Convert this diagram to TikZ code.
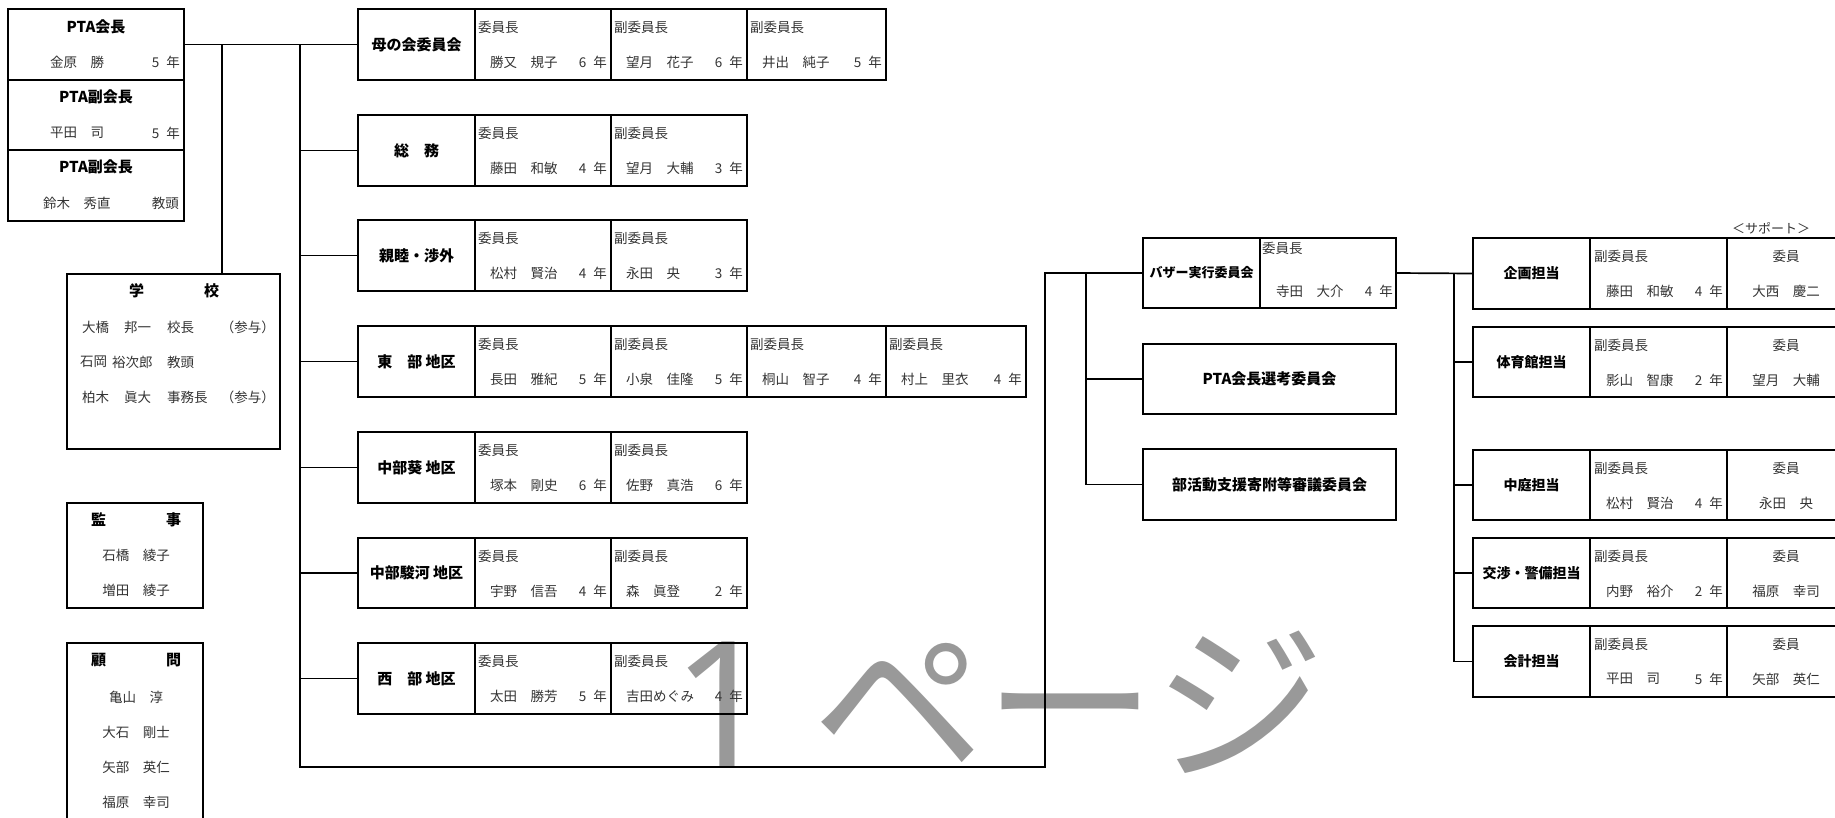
\documentclass[tikz,border=0pt]{standalone}
\usepackage{fontspec}
\setmainfont{Noto Sans CJK JP}
\newfontfamily\wmlatin{Noto Sans}
\begin{document}
\begin{tikzpicture}[x=1pt,y=-1pt,
  boxst/.style={draw, line width=1.7pt, inner sep=0pt, outer sep=0pt, anchor=north west},
  sm/.style={font=\fontsize{13.5}{15}\selectfont, text=black!80, inner sep=0pt},
  lab/.style={font=\fontsize{15}{17}\selectfont\bfseries, text=black, inner sep=0pt},
  labs/.style={font=\fontsize{14}{16}\selectfont\bfseries, text=black, inner sep=0pt},
  wm/.style={font=\fontsize{172}{180}\selectfont, text=black!40, inner sep=0pt},
  conn/.style={line width=1.7pt}]
\useasboundingbox (0,0) rectangle (1835,817);
\clip (0,0) rectangle (1835,817);
\newcommand\yr[1]{#1\hspace*{7pt}年}
\newcommand\mkbox[5]{\node[boxst, minimum width={(#4-#2)*1pt}, minimum height={(#5-#3)*1pt}] (#1) at (#2,#3) {};}
\newcommand\mem[4]{%
  \node[sm, anchor=west] (#1r) at ([xshift=3pt,yshift=-18pt]#1.north west) {#2};
  \node[sm, anchor=west] (#1n) at ([xshift=15pt,yshift=-53pt]#1.north west) {#3};
  \node[sm, anchor=east] (#1y) at ([xshift=-4pt,yshift=-53pt]#1.north east) {\yr{#4}};}
\newcommand\rmem[3]{%
  \node[sm, anchor=west] (#1r) at ([xshift=4pt,yshift=-18pt]#1.north west) {副委員長};
  \node[sm, anchor=west] (#1n) at ([xshift=16pt,yshift=-53pt]#1.north west) {#2};
  \node[sm, anchor=east] (#1y) at ([xshift=-4pt,yshift=-53pt]#1.north east) {\yr{#3}};}
\newcommand\supp[2]{%
  \node[sm] (#1r) at ([yshift=-18pt]#1.north) {委員};
  \node[sm] (#1n) at ([yshift=-53pt]#1.north) {#2};}

% watermark
\node[wm, anchor=base west] (wmark) at (672,767) {\wmlatin\fontsize{176}{180}\selectfont 1\hspace*{40pt}\normalfont\fontsize{172}{180}\selectfont ページ};

% left column
\mkbox{pres}{8}{9}{184}{80}
\node[lab] (prest) at (96,27) {PTA会長};
\node[sm, anchor=west] (presn) at (50,62) {金原　勝};
\node[sm, anchor=east] (presy) at (180,62) {\yr{5}};
\mkbox{vpa}{8}{80}{184}{150}
\node[lab] (vpat) at (96,97) {PTA副会長};
\node[sm, anchor=west] (vpan) at (50,133) {平田　司};
\node[sm, anchor=east] (vpay) at (180,133) {\yr{5}};
\mkbox{vpb}{8}{150}{184}{221}
\node[lab] (vpbt) at (96,167) {PTA副会長};
\node[sm, anchor=west] (vpbn) at (43,203) {鈴木　秀直};
\node[sm, anchor=east] (vpby) at (179,203) {教頭};

\mkbox{school}{67}{274}{280}{449}
\node[lab] (schoolt) at (174,291) {学\hspace*{60pt}校};
\node[sm, anchor=west] (s1a) at (82,327) {大橋};
\node[sm, anchor=west] (s1b) at (124,327) {邦一};
\node[sm, anchor=west] (s1c) at (167,327) {校長};
\node[sm, anchor=east] (s1d) at (275,327) {（参与）};
\node[sm, anchor=west] (s2a) at (80,362) {石岡};
\node[sm, anchor=west] (s2b) at (112,362) {裕次郎};
\node[sm, anchor=west] (s2c) at (167,362) {教頭};
\node[sm, anchor=west] (s3a) at (82,397) {柏木};
\node[sm, anchor=west] (s3b) at (124,397) {眞大};
\node[sm, anchor=west] (s3c) at (167,397) {事務長};
\node[sm, anchor=east] (s3d) at (275,397) {（参与）};

\mkbox{kanji}{67}{503}{203}{608}
\node[lab] (kanjit) at (136,520) {監\hspace*{60pt}事};
\node[sm] (kanji1) at (136,555) {石橋　綾子};
\node[sm] (kanji2) at (136,590) {増田　綾子};

\mkbox{komon}{67}{643}{203}{840}
\node[lab] (komont) at (136,660) {顧\hspace*{60pt}問};
\node[sm] (komon1) at (136,697) {亀山　淳};
\node[sm] (komon2) at (136,732) {大石　剛士};
\node[sm] (komon3) at (136,767) {矢部　英仁};
\node[sm] (komon4) at (136,802) {福原　幸司};

% middle rows
\mkbox{hahaL}{358}{9}{475}{80}
\mkbox{hahaA}{475}{9}{611}{80}
\mkbox{hahaB}{611}{9}{747}{80}
\mkbox{hahaC}{747}{9}{886}{80}
\node[lab] (hahat) at (hahaL.center) {母の会委員会};
\mem{hahaA}{委員長}{勝又　規子}{6}
\mem{hahaB}{副委員長}{望月　花子}{6}
\mem{hahaC}{副委員長}{井出　純子}{5}

\mkbox{soumuL}{358}{115}{475}{186}
\mkbox{soumuA}{475}{115}{611}{186}
\mkbox{soumuB}{611}{115}{747}{186}
\node[lab] (soumut) at (soumuL.center) {総　務};
\mem{soumuA}{委員長}{藤田　和敏}{4}
\mem{soumuB}{副委員長}{望月　大輔}{3}

\mkbox{shinL}{358}{220}{475}{291}
\mkbox{shinA}{475}{220}{611}{291}
\mkbox{shinB}{611}{220}{747}{291}
\node[lab] (shint) at (shinL.center) {親睦・渉外};
\mem{shinA}{委員長}{松村　賢治}{4}
\mem{shinB}{副委員長}{永田　央}{3}

\mkbox{higaL}{358}{326}{475}{397}
\mkbox{higaA}{475}{326}{611}{397}
\mkbox{higaB}{611}{326}{747}{397}
\mkbox{higaC}{747}{326}{886}{397}
\mkbox{higaD}{886}{326}{1026}{397}
\node[lab] (higat) at (higaL.center) {東　部 地区};
\mem{higaA}{委員長}{長田　雅紀}{5}
\mem{higaB}{副委員長}{小泉　佳隆}{5}
\mem{higaC}{副委員長}{桐山　智子}{4}
\mem{higaD}{副委員長}{村上　里衣}{4}

\mkbox{aoiL}{358}{432}{475}{503}
\mkbox{aoiA}{475}{432}{611}{503}
\mkbox{aoiB}{611}{432}{747}{503}
\node[lab] (aoit) at (aoiL.center) {中部葵 地区};
\mem{aoiA}{委員長}{塚本　剛史}{6}
\mem{aoiB}{副委員長}{佐野　真浩}{6}

\mkbox{suruL}{358}{538}{475}{608}
\mkbox{suruA}{475}{538}{611}{608}
\mkbox{suruB}{611}{538}{747}{608}
\node[lab] (surut) at (suruL.center) {中部駿河 地区};
\mem{suruA}{委員長}{宇野　信吾}{4}
\mem{suruB}{副委員長}{森　眞登}{2}

\mkbox{nishiL}{358}{643}{475}{714}
\mkbox{nishiA}{475}{643}{611}{714}
\mkbox{nishiB}{611}{643}{747}{714}
\node[lab] (nishit) at (nishiL.center) {西　部 地区};
\mem{nishiA}{委員長}{太田　勝芳}{5}
\mem{nishiB}{副委員長}{吉田めぐみ}{4}

% bazaar column
\mkbox{bazL}{1143}{238}{1260}{308}
\mkbox{bazA}{1260}{238}{1396}{308}
\node[font=\fontsize{13}{15}\selectfont\bfseries, inner sep=0pt] (bazt) at (bazL.center) {バザー実行委員会};
\node[sm, anchor=west] (bazAr) at (1262,248) {委員長};
\node[sm, anchor=west] (bazAn) at (1276,291) {寺田　大介};
\node[sm, anchor=east] (bazAy) at (1393,291) {\yr{4}};
\mkbox{senkou}{1143}{344}{1396}{414}
\node[lab] (senkout) at (senkou.center) {PTA会長選考委員会};
\mkbox{bukatsu}{1143}{449}{1396}{520}
\node[lab] (bukatsut) at (bukatsu.center) {部活動支援寄附等審議委員会};

% right group
\node[sm, font=\fontsize{13}{15}\selectfont] (support) at (1771,228) {＜サポート＞};
\mkbox{kikL}{1473}{238}{1590}{309}
\mkbox{kikA}{1590}{238}{1727}{309}
\mkbox{kikB}{1727}{238}{1845}{309}
\node[labs] (kikt) at (kikL.center) {企画担当};
\rmem{kikA}{藤田　和敏}{4}
\supp{kikB}{大西　慶二}

\mkbox{taiL}{1473}{327}{1590}{397}
\mkbox{taiA}{1590}{327}{1727}{397}
\mkbox{taiB}{1727}{327}{1845}{397}
\node[labs] (tait) at (taiL.center) {体育館担当};
\rmem{taiA}{影山　智康}{2}
\supp{taiB}{望月　大輔}

\mkbox{nakaL}{1473}{450}{1590}{520}
\mkbox{nakaA}{1590}{450}{1727}{520}
\mkbox{nakaB}{1727}{450}{1845}{520}
\node[labs] (nakat) at (nakaL.center) {中庭担当};
\rmem{nakaA}{松村　賢治}{4}
\supp{nakaB}{永田　央}

\mkbox{kouL}{1473}{538}{1590}{608}
\mkbox{kouA}{1590}{538}{1727}{608}
\mkbox{kouB}{1727}{538}{1845}{608}
\node[labs] (kout) at (kouL.center) {交渉・警備担当};
\rmem{kouA}{内野　裕介}{2}
\supp{kouB}{福原　幸司}

\mkbox{kaiL}{1473}{626}{1590}{697}
\mkbox{kaiA}{1590}{626}{1727}{697}
\mkbox{kaiB}{1727}{626}{1845}{697}
\node[labs] (kait) at (kaiL.center) {会計担当};
\rmem{kaiA}{平田　司}{5}
\supp{kaiB}{矢部　英仁}

% connectors
\coordinate (j1) at (222,44.5);
\coordinate (j2) at (300,44.5);
\coordinate (bb) at (300,767);
\coordinate (bc) at (1045,767);
\coordinate (bz) at (1086,273);
\coordinate (rz) at (1454,273.5);
\draw[conn] (pres.east) -- (hahaL.west);
\draw[conn] (j1) -- (j1 |- school.north);
\draw[conn] (j2) -- (bb) -- (bc) -- (bc |- bazL.west) -- (bazL.west);
\foreach \n in {soumuL,shinL,higaL,aoiL,suruL,nishiL}
  \draw[conn] (j2 |- \n.west) -- (\n.west);
\draw[conn] (bz) |- (bukatsu.west);
\draw[conn] (bz |- senkou.west) -- (senkou.west);
\draw[conn] (bazA.east) -- (kikL.west);
\draw[conn] (rz) |- (kaiL.west);
\foreach \n in {taiL,nakaL,kouL}
  \draw[conn] (rz |- \n.west) -- (\n.west);
\end{tikzpicture}
\end{document}
